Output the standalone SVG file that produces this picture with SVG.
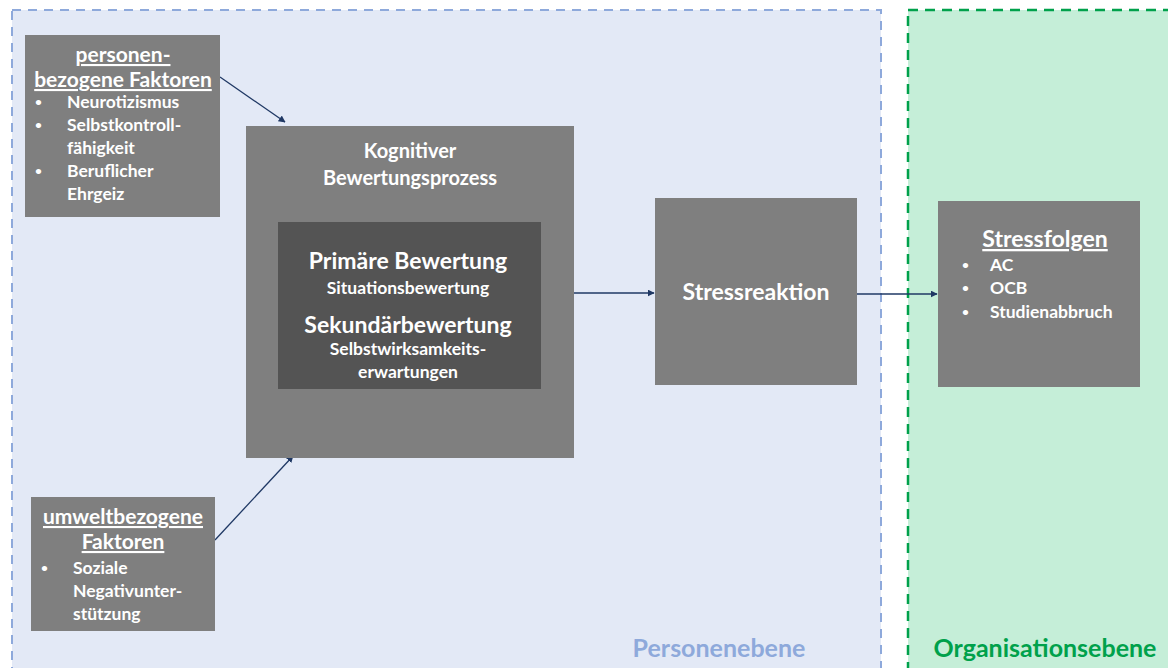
<svg xmlns="http://www.w3.org/2000/svg" width="1168" height="668" viewBox="0 0 1168 668">
  <defs>
    <marker id="arrow" viewBox="0 0 10 10" refX="9" refY="5" markerWidth="7" markerHeight="7" orient="auto" markerUnits="userSpaceOnUse">
      <path d="M0,0 L10,5 L0,10 z" fill="#1f3864"/>
    </marker>
    <style>
      text { font-family: "Lato", "Open Sans", "Liberation Sans", sans-serif; font-weight: bold; fill: #ffffff; }
      .box { fill: #7f7f7f; }
      .inner { fill: #545454; }
      .mid { text-anchor: middle; }
      .head { font-size: 21px; text-decoration: underline; }
      .item { font-size: 17.5px; }
      .dot { font-size: 12px; }
      .conn { stroke: #1f3864; stroke-width: 1.3; fill: none; marker-end: url(#arrow); }
    </style>
  </defs>

  <!-- levels -->
  <g id="level-person">
    <rect x="12" y="10" width="869" height="680" fill="#e3e9f6" stroke="#8ea9db" stroke-width="2" stroke-dasharray="9 7"/>
    <text x="719" y="657" class="mid" style="font-size:25px;fill:#8ea9db">Personenebene</text>
  </g>
  <g id="level-organisation">
    <rect x="908" y="10" width="280" height="680" fill="#c5eed8" stroke="#00a14b" stroke-width="2.5" stroke-dasharray="10 7"/>
    <text x="1045" y="657" class="mid" style="font-size:25px;fill:#00a14b">Organisationsebene</text>
  </g>

  <!-- connectors -->
  <g id="connectors">
    <line x1="220" y1="77" x2="285" y2="122" class="conn"/>
    <line x1="215" y1="540" x2="293" y2="456" class="conn"/>
    <line x1="574" y1="293" x2="654" y2="293" class="conn"/>
    <line x1="857" y1="294" x2="937" y2="294" class="conn"/>
  </g>

  <g id="person-factors">
    <rect x="25" y="35" width="195" height="182" class="box"/>
    <text x="123" y="62" class="mid head">personen-</text>
    <text x="123" y="87" class="mid head">bezogene Faktoren</text>
    <g class="item">
      <text x="35" y="106" class="dot">•</text><text x="67" y="108">Neurotizismus</text>
      <text x="35" y="129" class="dot">•</text><text x="67" y="131">Selbstkontroll-</text>
      <text x="67" y="154">fähigkeit</text>
      <text x="35" y="175" class="dot">•</text><text x="67" y="177">Beruflicher</text>
      <text x="67" y="200">Ehrgeiz</text>
    </g>
  </g>

  <g id="environment-factors">
    <rect x="31" y="497" width="184" height="134" class="box"/>
    <text x="123" y="524" class="mid head">umweltbezogene</text>
    <text x="123" y="549" class="mid head">Faktoren</text>
    <g class="item">
      <text x="41" y="572" class="dot">•</text><text x="73" y="574">Soziale</text>
      <text x="73" y="597">Negativunter-</text>
      <text x="73" y="620">stützung</text>
    </g>
  </g>

  <g id="appraisal">
    <rect x="246" y="126" width="328" height="332" class="box"/>
    <text x="410" y="158" class="mid" style="font-size:20px">Kognitiver</text>
    <text x="410" y="185" class="mid" style="font-size:20px">Bewertungsprozess</text>
    <rect x="278" y="222" width="263" height="167" class="inner"/>
    <text x="408" y="269" class="mid" style="font-size:23px">Primäre Bewertung</text>
    <text x="408" y="294" class="mid" style="font-size:17.5px">Situationsbewertung</text>
    <text x="408" y="333" class="mid" style="font-size:23px">Sekundärbewertung</text>
    <text x="408" y="355" class="mid" style="font-size:17.5px">Selbstwirksamkeits-</text>
    <text x="408" y="378" class="mid" style="font-size:17.5px">erwartungen</text>
  </g>

  <g id="stress-reaction">
    <rect x="655" y="198" width="202" height="187" class="box"/>
    <text x="756" y="300" class="mid" style="font-size:23px">Stressreaktion</text>
  </g>

  <g id="stress-consequences">
    <rect x="938" y="201" width="202" height="186" class="box"/>
    <text x="1045" y="247" class="mid head" style="font-size:23px">Stressfolgen</text>
    <g style="font-size:17.5px">
      <text x="962" y="269" class="dot">•</text><text x="990" y="271">AC</text>
      <text x="962" y="292" class="dot">•</text><text x="990" y="294">OCB</text>
      <text x="962" y="316" class="dot">•</text><text x="990" y="318">Studienabbruch</text>
    </g>
  </g>
</svg>
